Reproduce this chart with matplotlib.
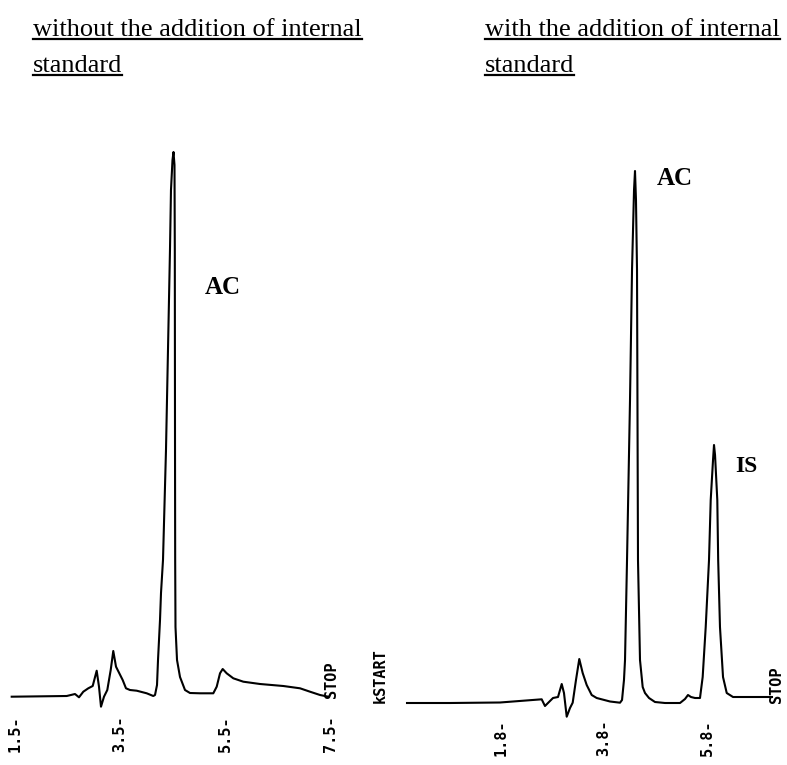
import matplotlib
matplotlib.use("Agg")
import matplotlib.pyplot as plt
from matplotlib.lines import Line2D

# ---------------- data (retention time in min, detector signal in arbitrary units) ----------------
left_time = [1.437, 2.485, 2.643, 2.719, 2.801, 2.896, 2.980, 3.056, 3.100, 3.138,
             3.195, 3.258, 3.323, 3.372, 3.424, 3.487, 3.551, 3.614, 3.690, 3.818,
             4.009, 4.134, 4.167, 4.205, 4.224, 4.262, 4.281, 4.319, 4.376, 4.414,
             4.452, 4.471, 4.500, 4.519, 4.538, 4.544, 4.548, 4.551, 4.557, 4.586,
             4.643, 4.738, 4.833, 5.024, 5.277, 5.342, 5.405, 5.456, 5.532, 5.658,
             5.849, 6.167, 6.610, 6.929, 7.119, 7.310, 7.468]
left_signal = [0.3, 1, 3, -0.3, 5.3, 8.7, 11, 26.3, 10.3, -9.7,
               0.3, 7, 27, 46, 30.3, 23.7, 17, 8.7, 7, 6.3,
               3.7, 1, 2, 12, 37, 77, 104, 137, 247, 347,
               447, 507, 537, 545, 532, 447, 247, 137, 70, 37,
               20, 7, 4, 3.7, 3.7, 10.3, 23.7, 28, 23.7, 18.7,
               15.3, 13, 11, 8.7, 5.3, 2, 0.3]

right_time = [-0.025, 0.810, 1.781, 2.590, 2.654, 2.718, 2.810, 2.907, 2.979, 3.023,
              3.076, 3.140, 3.192, 3.256, 3.320, 3.386, 3.464, 3.561, 3.658, 3.917,
              4.111, 4.150, 4.188, 4.208, 4.247, 4.305, 4.344, 4.383, 4.402, 4.421,
              4.441, 4.460, 4.499, 4.551, 4.596, 4.674, 4.790, 4.984, 5.276, 5.373,
              5.431, 5.489, 5.567, 5.664, 5.716, 5.775, 5.839, 5.872, 5.917, 5.936,
              5.956, 6.000, 6.017, 6.052, 6.111, 6.183, 6.305, 6.538, 6.829, 7.062]
right_signal = [0, 0, 0.5, 3.7, -3, 0.3, 5, 6, 19, 10,
                -13.7, -5, 0.3, 23, 44, 30, 18, 8, 5, 1.5,
                0.3, 3, 23, 43, 143, 303, 433, 513, 532, 503,
                433, 143, 43, 16, 10, 5, 1, 0, 0, 4,
                8, 6, 5, 5, 26, 76, 143, 203, 243, 258,
                248, 203, 143, 76, 26, 10, 6, 6, 6, 6]

left_ticks = [1.5, 3.5, 5.5, 7.5]
left_tick_labels = ["1.5-", "3.5-", "5.5-", "7.5-"]
right_ticks = [1.8, 3.8, 5.8]
right_tick_labels = ["1.8-", "3.8-", "5.8-"]

left_title = "without the addition of internal\nstandard"
right_title = "with the addition of internal\nstandard"

# ---------------- figure ----------------
W, H = 787, 765
fig = plt.figure(figsize=(W / 100, H / 100), dpi=100)
fig.patch.set_facecolor("white")

split = 393.5 / W
axL = fig.add_axes([0, 0, split, 1])
axR = fig.add_axes([split, 0, 1 - split, 1])
for ax in (axL, axR):
    ax.set_axis_off()

# pixel scale of the recorder paper: ~52.5 px per minute (left), ~51.5 px per minute (right)
axL.set_xlim(1.5 - 15 / 52.5, 1.5 + (393.5 - 15) / 52.5)
axL.set_ylim(697 - 765, 697)
axR.set_xlim(1.8 - (501 - 393.5) / 51.5, 1.8 + (787 - 501) / 51.5)
axR.set_ylim(703 - 765, 703)

lw = 1.5
axL.plot(left_time, left_signal, color="black", lw=lw, solid_joinstyle="round")
axR.plot(right_time, right_signal, color="black", lw=lw, solid_joinstyle="round")

mono = "DejaVu Sans Mono"
msize = 11
mweight = "bold"
for t, lab in zip(left_ticks, left_tick_labels):
    axL.text(t, -18, lab, rotation=90, ha="center", va="top", family=mono,
             fontsize=msize, fontweight=mweight)
for t, lab in zip(right_ticks, right_tick_labels):
    axR.text(t, -17, lab, rotation=90, ha="center", va="top", family=mono,
             fontsize=msize, fontweight=mweight)

axL.text(7.538, -1, "STOP", rotation=90, ha="center", va="bottom", family=mono,
         fontsize=msize, fontweight=mweight)
axR.text(7.159, 0, "STOP", rotation=90, ha="center", va="bottom", family=mono,
         fontsize=msize, fontweight=mweight)
axR.text(-0.55, 0, "kSTART", rotation=90, ha="center", va="bottom", family=mono,
         fontsize=msize, fontweight=mweight, clip_on=False)

serif = "Liberation Serif"
axL.text(5.462, 410, "AC", ha="center", va="center", family=serif, fontsize=18,
         fontweight="bold")
axR.text(5.179, 525, "AC", ha="center", va="center", family=serif, fontsize=18,
         fontweight="bold")
axR.text(6.557, 237, "IS", ha="center", va="center", family=serif, fontsize=17,
         fontweight="bold")

# titles (underlined)
title_size = 19
tL = fig.text(33 / W, 1 - 19 / H, left_title, ha="left", va="top", family=serif,
              fontsize=title_size, linespacing=1.82)
tR = fig.text(485 / W, 1 - 19 / H, right_title, ha="left", va="top", family=serif,
              fontsize=title_size, linespacing=1.82)

fig.canvas.draw()
renderer = fig.canvas.get_renderer()
for txt in (tL, tR):
    lines = txt.get_text().split("\n")
    bb = txt.get_window_extent(renderer)
    x0 = bb.x0
    first = fig.text(0, 0, lines[0], family=serif, fontsize=title_size)
    fb = first.get_window_extent(renderer)
    first.remove()
    step = (bb.height - fb.height) / (len(lines) - 1)
    for i, line in enumerate(lines):
        probe = fig.text(0, 0, line, family=serif, fontsize=title_size)
        wdt = probe.get_window_extent(renderer).width
        probe.remove()
        y_line = bb.y1 - fb.height - i * step + 0.07 * fb.height
        fig.add_artist(Line2D([x0 / W, (x0 + wdt) / W], [y_line / H, y_line / H],
                              transform=fig.transFigure, color="black", lw=1.6))

fig.savefig("out.png", dpi=100, facecolor="white")
